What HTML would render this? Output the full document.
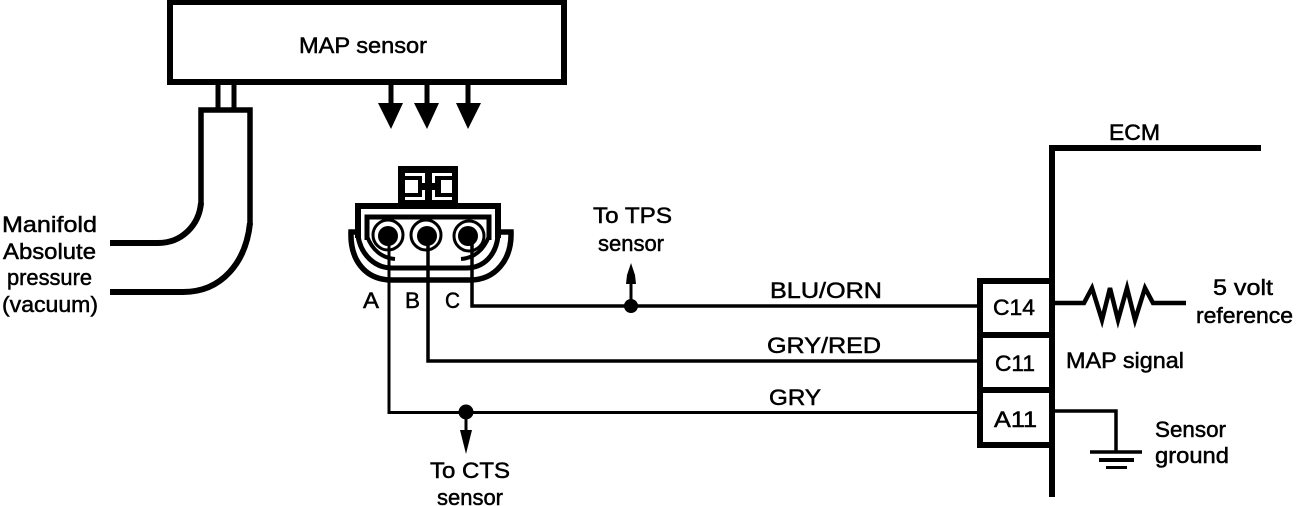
<!DOCTYPE html>
<html><head><meta charset="utf-8"><style>
html,body{margin:0;padding:0;background:#fff;width:1312px;height:506px;overflow:hidden}
svg{display:block;position:absolute;left:0;top:0}
text{font-family:"Liberation Sans",sans-serif;font-size:22px;fill:#000;stroke:#000;stroke-width:.5px}
</style></head><body>
<svg width="1312" height="506" viewBox="0 0 1312 506" fill="none" stroke="#000" stroke-linejoin="miter">
<!-- MAP box -->
<rect x="170" y="2" width="394" height="80" stroke-width="6"/>
<path d="M218 84V110M234 84V110" stroke-width="5"/>
<path d="M201 205V110H250V225" stroke-width="5.5"/>
<path d="M201 203C199 225 182 243 158 243H110" stroke-width="6"/>
<path d="M250 223C246 262 222 292 183 292H110" stroke-width="6"/>
<!-- arrows -->
<path d="M391 85V106M427 85V106M468 85V106" stroke-width="5"/>
<path d="M378 103H403L391 129ZM414 103H439L427 129ZM456 103H481L468 129Z" fill="#000" stroke="none"/>
<!-- tab -->
<rect x="398" y="166" width="60" height="41" fill="#000" stroke="none"/>
<g fill="#fff" stroke="none">
<rect x="405" y="173" width="20" height="3"/><rect x="432" y="173" width="20" height="3"/>
<rect x="405" y="180" width="13" height="13"/><rect x="441" y="180" width="11" height="13"/>
<rect x="405" y="197" width="20" height="3"/><rect x="432" y="197" width="20" height="3"/>
<rect x="422" y="176" width="3" height="7"/><rect x="432" y="176" width="3" height="7"/>
<rect x="422" y="190" width="3" height="7"/><rect x="432" y="190" width="3" height="7"/>
</g>
<!-- connector body -->
<path d="M358 238V206H498V238" stroke-width="6"/>
<path d="M367 240V217H489V240" stroke-width="5"/>
<path d="M358 232H351C350 260 365 280 392 280H470C495 280 512 260 511 232H498" stroke-width="5.5"/>
<path d="M358 236C361 255 375 268 392 268H466C484 268 496 255 498 236" stroke-width="5"/>
<path d="M367 236C372 250 382 258 395 259M489 236C484 250 474 258 461 259" stroke-width="4"/>
<circle cx="388" cy="235" r="15" stroke-width="3"/><circle cx="388" cy="236" r="10" fill="#000" stroke="none"/>
<circle cx="426" cy="235" r="15" stroke-width="3"/><circle cx="427" cy="236" r="10" fill="#000" stroke="none"/>
<circle cx="469" cy="236" r="15" stroke-width="3"/><circle cx="468" cy="236" r="10" fill="#000" stroke="none"/>
<!-- wires -->
<path d="M389 240V412.5H978" stroke-width="3"/>
<path d="M428 240V361H978" stroke-width="3.5"/>
<path d="M472 240V306H978" stroke-width="3.5"/>
<circle cx="631" cy="306" r="7" fill="#000" stroke="none"/>
<circle cx="466" cy="412" r="7.5" fill="#000" stroke="none"/>
<path d="M631 306V280M466 412V434" stroke-width="3"/>
<path d="M626 284L627 275L631 263L635 275L636 284ZM460 430H472L466 454Z" fill="#000" stroke="none"/>
<!-- ECM -->
<path d="M1052 497V148H1261" stroke-width="6"/>
<path d="M1052 281H980V445H1052M980 335H1052M980 390H1052" stroke-width="6"/>
<path d="M1054 303H1084L1092 288L1102 320L1110 288L1118 320L1127 288L1135 320L1145 288L1153 303H1186" stroke-width="4.5"/>
<path d="M1054 411H1116V452" stroke-width="3.5"/>
<path d="M1090 452H1142" stroke-width="3.5"/><path d="M1099 460H1134" stroke-width="4"/><path d="M1106 467.5H1127" stroke-width="3"/>
</svg>
<svg width="1312" height="506" viewBox="0 0 1312 506">
<g lengthAdjust="spacingAndGlyphs">
<text x="299" y="53" textLength="128" lengthAdjust="spacingAndGlyphs">MAP sensor</text>
<text x="2" y="232" textLength="95" lengthAdjust="spacingAndGlyphs">Manifold</text>
<text x="3" y="259" textLength="93" lengthAdjust="spacingAndGlyphs">Absolute</text>
<text x="7" y="285" textLength="85" lengthAdjust="spacingAndGlyphs">pressure</text>
<text x="2" y="312" textLength="96" lengthAdjust="spacingAndGlyphs">(vacuum)</text>
<text x="363" y="308" textLength="16" lengthAdjust="spacingAndGlyphs">A</text>
<text x="405" y="308" textLength="15" lengthAdjust="spacingAndGlyphs">B</text>
<text x="445" y="308" textLength="15" lengthAdjust="spacingAndGlyphs">C</text>
<text x="593" y="223" textLength="79" lengthAdjust="spacingAndGlyphs">To TPS</text>
<text x="598" y="251" textLength="66" lengthAdjust="spacingAndGlyphs">sensor</text>
<text x="770" y="298" textLength="112" lengthAdjust="spacingAndGlyphs">BLU/ORN</text>
<text x="767" y="353" textLength="114" lengthAdjust="spacingAndGlyphs">GRY/RED</text>
<text x="769" y="405" textLength="52" lengthAdjust="spacingAndGlyphs">GRY</text>
<text x="430" y="478" textLength="80" lengthAdjust="spacingAndGlyphs">To CTS</text>
<text x="437" y="505" textLength="66" lengthAdjust="spacingAndGlyphs">sensor</text>
<text x="1109" y="140" textLength="51" lengthAdjust="spacingAndGlyphs">ECM</text>
<text x="993" y="315" textLength="42" lengthAdjust="spacingAndGlyphs">C14</text>
<text x="995" y="371" textLength="40" lengthAdjust="spacingAndGlyphs">C11</text>
<text x="994" y="427" textLength="43" lengthAdjust="spacingAndGlyphs">A11</text>
<text x="1213" y="295" textLength="60" lengthAdjust="spacingAndGlyphs">5 volt</text>
<text x="1196" y="323" textLength="97" lengthAdjust="spacingAndGlyphs">reference</text>
<text x="1066" y="368" textLength="118" lengthAdjust="spacingAndGlyphs">MAP signal</text>
<text x="1155" y="437" textLength="71" lengthAdjust="spacingAndGlyphs">Sensor</text>
<text x="1155" y="463" textLength="74" lengthAdjust="spacingAndGlyphs">ground</text>
</g>
</svg>
</body></html>
